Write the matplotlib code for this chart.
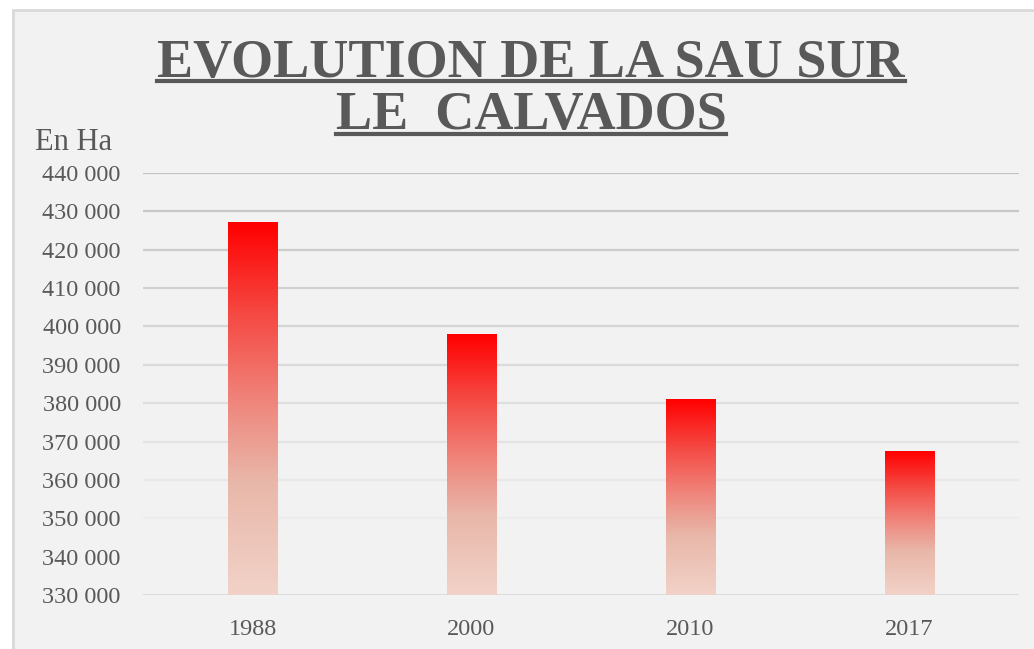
import numpy as np
import matplotlib.pyplot as plt
from matplotlib.colors import LinearSegmentedColormap
from matplotlib.patches import Rectangle
from matplotlib.lines import Line2D

years = ['1988', '2000', '2010', '2017']
sau_ha = [427000, 398000, 381000, 367300]
y_ticks = list(range(330000, 440001, 10000))
tick_labels = [f"{v // 1000} 000" for v in y_ticks]

text_col = '#595959'
serif = ['Liberation Serif', 'DejaVu Serif']

fig = plt.figure(figsize=(10.34, 6.49), dpi=100)
fig.patch.set_facecolor('white')

# grey chart panel with thin border
W, H = 1034, 649
fig.patches.append(Rectangle((13 / W, -0.1), 1.2, 1.1 - 10 / H, transform=fig.transFigure,
                             facecolor='#f2f2f2', edgecolor='#d9d9d9', linewidth=2, zorder=0))

ax = fig.add_axes([143 / W, 1 - 595 / H, (1019 - 143) / W, (595 - 173) / H])
ax.set_zorder(2)
ax.set_facecolor('none')
for s in ax.spines.values():
    s.set_visible(False)

# fading gridlines (darker at top)
n = len(y_ticks)
for i, v in enumerate(y_ticks[1:], start=1):
    g = 0.945 - 0.18 * (i - 1) / (n - 2)
    ax.axhline(v, color=(g, g, g), linewidth=1.6, zorder=1)
ax.axhline(330000, color='#d9d9d9', linewidth=2, zorder=1)

cmap = LinearSegmentedColormap.from_list('bar', [
    (0.0, '#f2d2c8'), (0.3, '#e8b8aa'), (0.5, '#ef8a80'),
    (0.75, '#f54a44'), (1.0, '#ff0000')])
grad = np.linspace(0, 1, 256).reshape(-1, 1)
bw = 0.224
for i, v in enumerate(sau_ha):
    ax.imshow(grad, cmap=cmap, origin='lower', aspect='auto',
              extent=(i - bw / 2, i + bw / 2, 330000, v), zorder=2)
ax.set_xlim(-0.5, len(years) - 0.5)
ax.set_ylim(330000, 440000)

ax.set_xticks(range(len(years)))
ax.set_xticklabels(years, family=serif, fontsize=17.5, color=text_col)
ax.set_yticks(y_ticks)
ax.set_yticklabels(tick_labels, family=serif, fontsize=17.5, color=text_col)
ax.tick_params(length=0)
ax.tick_params(axis='y', pad=16)
ax.tick_params(axis='x', pad=17)

fig.text(35 / W, 1 - 143 / H, 'En Ha', family=serif, fontsize=22, color=text_col, va='center')

t1 = fig.text(531 / W, 1 - 64 / H, 'EVOLUTION DE LA SAU SUR', family=serif, fontsize=39,
              fontweight='bold', color=text_col, ha='center', va='center')
t2 = fig.text(531 / W, 1 - 116 / H, 'LE  CALVADOS', family=serif, fontsize=39,
              fontweight='bold', color=text_col, ha='center', va='center')

# underline the title lines
fig.canvas.draw()
r = fig.canvas.get_renderer()
for t, yline in ((t1, 81), (t2, 134)):
    bb = t.get_window_extent(r)
    fig.add_artist(Line2D([bb.x0 / W, bb.x1 / W], [1 - yline / H] * 2,
                          transform=fig.transFigure, color=text_col, linewidth=3))

fig.savefig('out.png', dpi=100)
